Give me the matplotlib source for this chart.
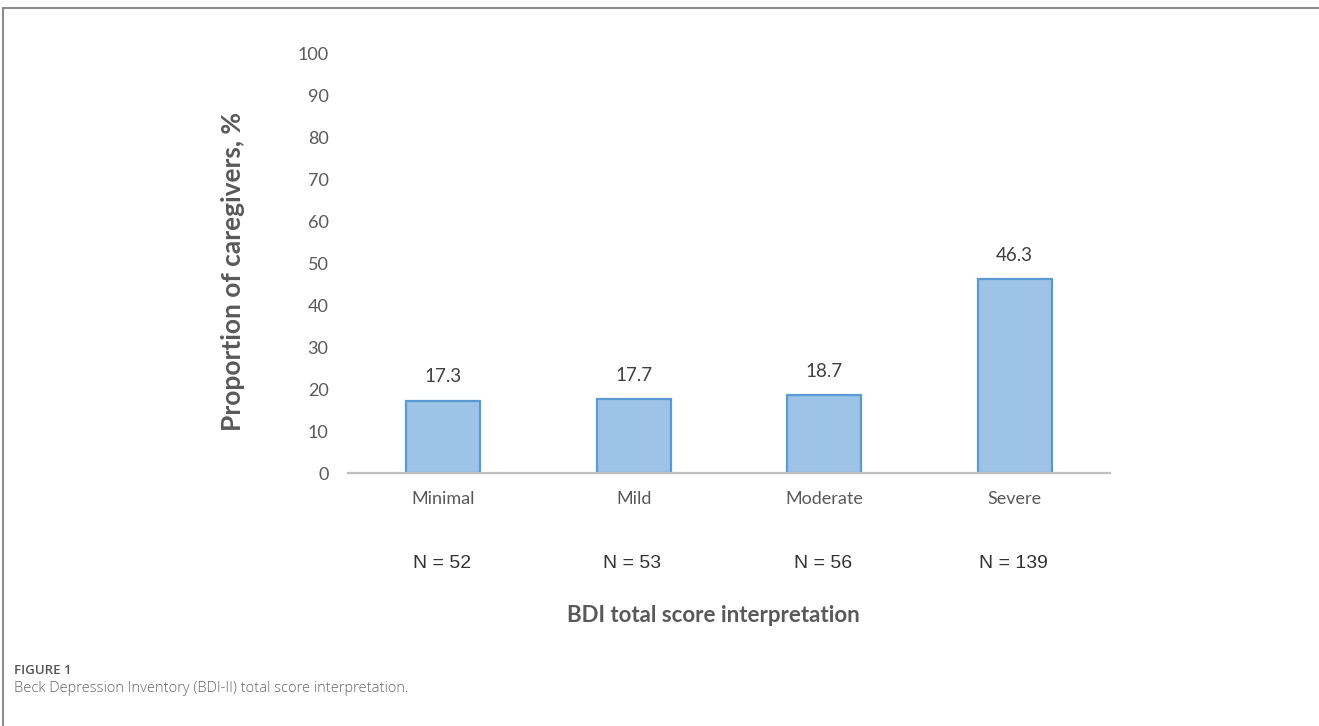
import matplotlib
matplotlib.use("Agg")
import matplotlib.pyplot as plt
from matplotlib.lines import Line2D

categories = ['Minimal', 'Mild', 'Moderate', 'Severe']
proportions = [17.3, 17.7, 18.7, 46.3]
counts = [52, 53, 56, 139]
y_ticks = list(range(0, 101, 10))

W, H = 1319, 726
fig = plt.figure(figsize=(W / 100, H / 100), dpi=100)
ax = fig.add_axes([348 / W, 1 - 473 / H, (1110 - 348) / W, (473 - 54) / H])

x = range(len(categories))
bars = ax.bar(x, proportions, width=0.39, color='#9DC3E6',
              edgecolor='#5B9BD5', linewidth=1.6, zorder=2)

# value labels above bars
for rect, val in zip(bars, proportions):
    ax.annotate(f'{val}', (rect.get_x() + rect.get_width() / 2, val),
                xytext=(0, 17), textcoords='offset points', ha='center', va='center',
                fontsize=13.5, family='Lato', color='#404040')

ax.set_xlim(-0.5, len(categories) - 0.5)
ax.set_ylim(0, 100)
ax.set_yticks(y_ticks)
ax.set_xticks(list(x))
ax.set_xticklabels(categories)

for side in ['top', 'right', 'left']:
    ax.spines[side].set_visible(False)
ax.spines['bottom'].set_color('#BFBFBF')
ax.spines['bottom'].set_linewidth(1.6)

ax.tick_params(axis='y', length=0, pad=14, labelsize=13, labelcolor='#595959')
ax.tick_params(axis='x', length=0, pad=13, labelsize=13, labelcolor='#595959')
for lab in ax.get_xticklabels() + ax.get_yticklabels():
    lab.set_family('Lato')

# N labels under categories
for i, n in enumerate(counts):
    ax.annotate(f'N = {n}', (i, 0), xytext=(-1, -65), textcoords='offset points',
                ha='center', va='center', fontsize=14,
                family=['Liberation Sans Narrow', 'Liberation Sans'], color='#333333')

fig.text(713 / W, 1 - 615 / H, 'BDI total score interpretation', ha='center', va='center',
         fontsize=16, fontweight='bold', family='Lato', color='#595959')
fig.text(233 / W, 1 - 271 / H, 'Proportion of caregivers, %', ha='center', va='center',
         rotation=90, fontsize=19, fontweight='bold', family='Lato', color='#595959')

# caption
fig.text(14 / W, 1 - 670 / H, 'FIGURE 1', ha='left', va='center', fontsize=9.5,
         fontweight='semibold', family='Open Sans', color='#555555')
fig.text(14 / W, 1 - 688 / H, 'Beck Depression Inventory (BDI-II) total score interpretation.',
         ha='left', va='center', fontsize=10.5, fontweight='light', family='Open Sans',
         color='#666666')

# frame lines
fig.add_artist(Line2D([3 / W, 3 / W], [0, 1 - 8 / H], color='#8C8C8C', lw=1.5))
fig.add_artist(Line2D([3 / W, 1], [1 - 8 / H, 1 - 8 / H], color='#8C8C8C', lw=1.5))

fig.savefig('out.png', dpi=100)
